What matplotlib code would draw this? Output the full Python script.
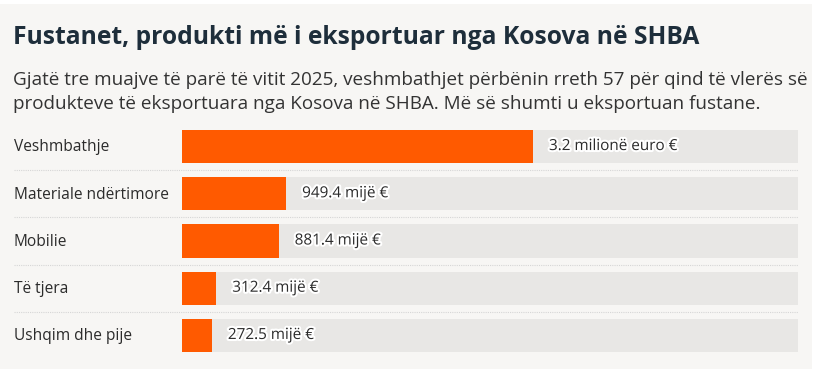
import matplotlib
matplotlib.use("Agg")
import matplotlib.pyplot as plt
from matplotlib.patches import Rectangle
import matplotlib.patheffects as pe
import matplotlib.transforms as mtrans

# ---- data ----
categories = ["Veshmbathje", "Materiale ndërtimore", "Mobilie", "Të tjera", "Ushqim dhe pije"]
values_k = [3200.0, 949.4, 881.4, 312.4, 272.5]          # thousand euro
value_labels = ["3.2 milionë euro €", "949.4 mijë €", "881.4 mijë €", "312.4 mijë €", "272.5 mijë €"]
axis_max_k = 5616.0

title = "Fustanet, produkti më i eksportuar nga Kosova në SHBA"
subtitle_lines = [
    "Gjatë tre muajve të parë të vitit 2025, veshmbathjet përbënin rreth 57 për qind të vlerës së",
    "produkteve të eksportuara nga Kosova në SHBA. Më së shumti u eksportuan fustane.",
]

W, H = 827, 369
DPI = 100
BG = "#F7F6F4"
TRACK = "#E8E7E5"
ORANGE = "#FF5A00"
DARK = "#1E2E3B"
TEXT = "#2B2B2B"
FONT = ["Open Sans", "DejaVu Sans"]

fig = plt.figure(figsize=(W / DPI, H / DPI), dpi=DPI)
fig.patch.set_facecolor("white")

def fx(px):
    return px / W

def fy(py):
    return 1 - py / H

# panel
fig.add_artist(Rectangle((0, 0), fx(812), fy(4), transform=fig.transFigure,
                         facecolor=BG, edgecolor="none", zorder=0))

renderer = fig.canvas.get_renderer()

def fit_text(x, y, s, target_w, size0, **kw):
    t = fig.text(fx(x), fy(y), s, fontsize=size0, **kw)
    bb = t.get_window_extent(renderer=renderer)
    t.set_fontsize(size0 * target_w / bb.width)
    return t

fit_text(13, 44, title, 687, 18, fontweight="bold", color=DARK, family=FONT, va="baseline")
s1 = fit_text(13, 85, subtitle_lines[0], 792, 12, color="#333333", family=FONT, va="baseline")
fig.text(fx(13), fy(109), subtitle_lines[1], color="#333333", family=FONT,
         va="baseline", fontsize=s1.get_fontsize())

# bars axes
top, bottom, left, right = 130, 352, 182, 798
ax = fig.add_axes([fx(left), fy(bottom), fx(right) - fx(left), (bottom - top) / H])
ax.set_facecolor("none")
n = len(categories)
ypos = list(range(n))
ax.barh(ypos, [axis_max_k] * n, height=0.70, color=TRACK, zorder=1)
ax.barh(ypos, values_k, height=0.70, color=ORANGE, zorder=2)
ax.set_xlim(0, axis_max_k)
ax.set_ylim(n - 1 + 0.35, -0.35)
ax.axis("off")

blend = mtrans.blended_transform_factory(fig.transFigure, ax.transData)
off = mtrans.ScaledTranslation(16 / DPI, 0, fig.dpi_scale_trans)

for i, (cat, v, lab) in enumerate(zip(categories, values_k, value_labels)):
    fig.text(fx(13.5), i + 0.02, cat, transform=blend, fontsize=11.2, color=TEXT,
             family=FONT, va="center", ha="left")
    ax.text(v, i, lab, transform=ax.transData + off, fontsize=11.0, color=TEXT,
            family=FONT, va="center", ha="left", zorder=3,
            path_effects=[pe.withStroke(linewidth=3, foreground="white")])

for i in range(n - 1):
    fig.add_artist(plt.Line2D([fx(14), fx(798)], [i + 0.5, i + 0.5], transform=blend,
                              color="#D6D6D6", lw=0.8, ls=(0, (1, 1)), zorder=0.5))

fig.savefig("out.png", dpi=DPI, facecolor=fig.get_facecolor())
